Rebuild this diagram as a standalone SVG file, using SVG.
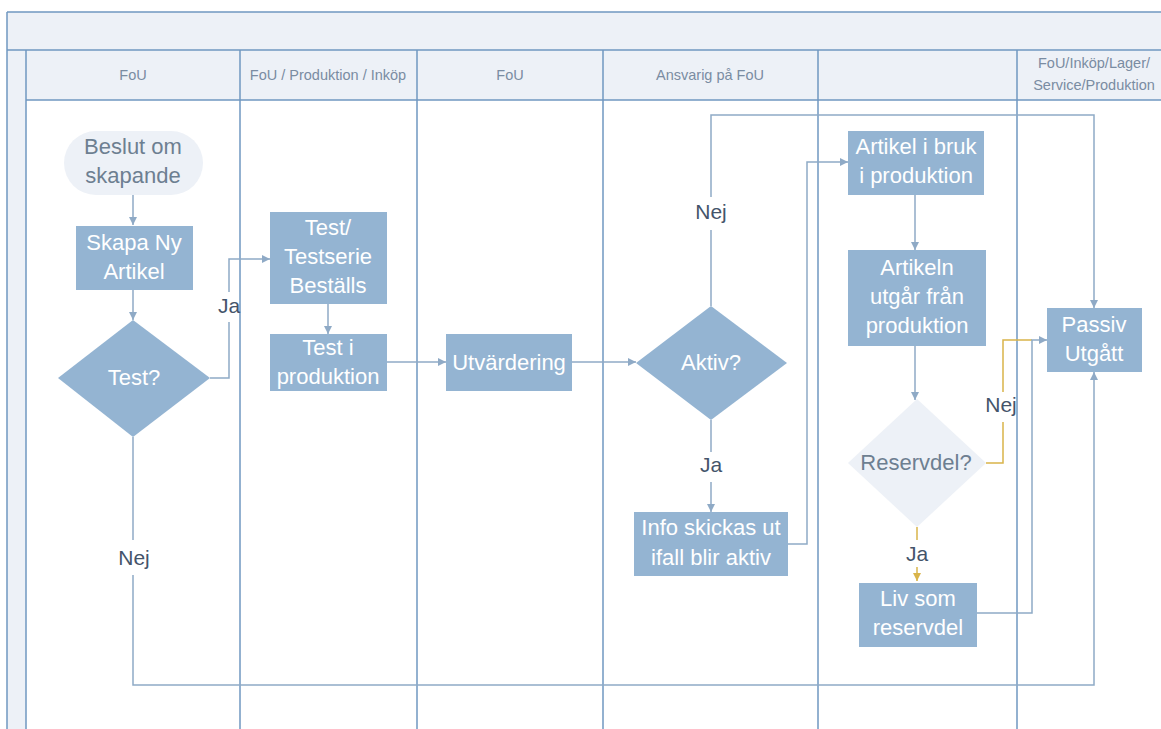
<svg xmlns="http://www.w3.org/2000/svg" width="1161" height="729" viewBox="0 0 1161 729">
  <style>
    .lane { stroke: #6f97c0; stroke-width: 1.5; fill: none; }
    .band { fill: #edf1f7; }
    .hdr { font-family: "Liberation Sans", Arial, sans-serif; font-size: 14.5px; fill: #7a8ca2; text-anchor: middle; }
    .box { fill: #94b4d2; }
    .soft { fill: #edf1f7; }
    .t { font-family: "Liberation Sans", Arial, sans-serif; font-size: 22px; fill: #ffffff; text-anchor: middle; }
    .ts { font-family: "Liberation Sans", Arial, sans-serif; font-size: 22px; fill: #6d7f91; text-anchor: middle; }
    .lbl { font-family: "Liberation Sans", Arial, sans-serif; font-size: 21px; fill: #44546a; text-anchor: middle; }
    .c { stroke: #8faac6; stroke-width: 1.5; fill: none; }
    .g { stroke: #d9b44a; stroke-width: 1.5; fill: none; }
  </style>
  <defs>
    <marker id="arr" viewBox="0 0 10 10" refX="10" refY="5" markerWidth="9" markerHeight="8" markerUnits="userSpaceOnUse" orient="auto">
      <path d="M0,0 L10,5 L0,10 z" fill="#8faac6"/>
    </marker>
    <marker id="arrG" viewBox="0 0 10 10" refX="10" refY="5" markerWidth="9" markerHeight="8" markerUnits="userSpaceOnUse" orient="auto">
      <path d="M0,0 L10,5 L0,10 z" fill="#d9b44a"/>
    </marker>
  </defs>

  <!-- swimlane frame -->
  <g id="frame">
    <rect x="0" y="0" width="1161" height="729" fill="#ffffff"/>
    <rect class="band" x="7" y="12" width="1160" height="38"/>
    <rect class="band" x="7" y="50" width="19" height="690"/>
    <rect class="band" x="26" y="50" width="1140" height="50"/>
    <line class="lane" x1="7" y1="12" x2="1166" y2="12"/>
    <line class="lane" x1="7" y1="12" x2="7" y2="740"/>
    <line class="lane" x1="7" y1="50" x2="1166" y2="50"/>
    <line class="lane" x1="26" y1="50" x2="26" y2="740"/>
    <line class="lane" x1="26" y1="100" x2="1166" y2="100"/>
    <line class="lane" x1="240" y1="50" x2="240" y2="740"/>
    <line class="lane" x1="417" y1="50" x2="417" y2="740"/>
    <line class="lane" x1="603" y1="50" x2="603" y2="740"/>
    <line class="lane" x1="818" y1="50" x2="818" y2="740"/>
    <line class="lane" x1="1017" y1="50" x2="1017" y2="740"/>
    <text class="hdr" x="133" y="80">FoU</text>
    <text class="hdr" x="328" y="80">FoU / Produktion / Inköp</text>
    <text class="hdr" x="510" y="80">FoU</text>
    <text class="hdr" x="710" y="80">Ansvarig på FoU</text>
    <text class="hdr" x="1094" y="68">FoU/Inköp/Lager/</text>
    <text class="hdr" x="1094" y="90">Service/Produktion</text>
  </g>

  <!-- connectors -->
  <g id="connectors">
    <path class="c" d="M133,195 V225" marker-end="url(#arr)"/>
    <path class="c" d="M133,290 V320" marker-end="url(#arr)"/>
    <path class="c" d="M210,378 H229 V322"/>
    <path class="c" d="M229,292 V259 H270" marker-end="url(#arr)"/>
    <path class="c" d="M328,304 V334" marker-end="url(#arr)"/>
    <path class="c" d="M386,362 H446" marker-end="url(#arr)"/>
    <path class="c" d="M571,362 H636" marker-end="url(#arr)"/>
    <path class="c" d="M711,306 V230"/>
    <path class="c" d="M711,197 V115 H1094 V308" marker-end="url(#arr)"/>
    <path class="c" d="M711,420 V452"/>
    <path class="c" d="M711,482 V512" marker-end="url(#arr)"/>
    <path class="c" d="M787,544 H807 V162 H848" marker-end="url(#arr)"/>
    <path class="c" d="M915,195 V250" marker-end="url(#arr)"/>
    <path class="c" d="M915,346 V400" marker-end="url(#arr)"/>
    <path class="g" d="M986,463 H1003 V422"/>
    <path class="g" d="M1003,392 V340 H1032"/>
    <path class="c" d="M977,613 H1032 V340 H1047" marker-end="url(#arr)"/>
    <path class="g" d="M917,527 V540"/>
    <path class="g" d="M917,567 V581" marker-end="url(#arrG)"/>
    <path class="c" d="M133,437 V540"/>
    <path class="c" d="M133,575 V685 H1094 V372" marker-end="url(#arr)"/>
    <text class="lbl" x="229" y="313">Ja</text>
    <text class="lbl" x="711" y="219">Nej</text>
    <text class="lbl" x="711" y="472">Ja</text>
    <text class="lbl" x="134" y="565">Nej</text>
    <text class="lbl" x="1001" y="412">Nej</text>
    <text class="lbl" x="917" y="561">Ja</text>
  </g>

  <g id="beslut">
    <rect class="soft" x="64" y="131" width="139" height="64" rx="32" ry="32"/>
    <text class="ts" x="133" y="154">Beslut om</text>
    <text class="ts" x="133" y="183">skapande</text>
  </g>
  <g id="skapa">
    <rect class="box" x="76" y="226" width="117" height="64"/>
    <text class="t" x="134" y="250">Skapa Ny</text>
    <text class="t" x="134" y="279">Artikel</text>
  </g>
  <g id="test">
    <polygon class="box" points="133,320 210,378 133,437 58,378"/>
    <text class="t" x="134" y="385">Test?</text>
  </g>
  <g id="testserie">
    <rect class="box" x="270" y="212" width="117" height="92"/>
    <text class="t" x="328" y="235">Test/</text>
    <text class="t" x="328" y="264">Testserie</text>
    <text class="t" x="328" y="293">Beställs</text>
  </g>
  <g id="testprod">
    <rect class="box" x="270" y="334" width="117" height="57"/>
    <text class="t" x="328" y="355">Test i</text>
    <text class="t" x="328" y="384">produktion</text>
  </g>
  <g id="utvardering">
    <rect class="box" x="446" y="334" width="126" height="57"/>
    <text class="t" x="509" y="370">Utvärdering</text>
  </g>
  <g id="aktiv">
    <polygon class="box" points="711,306 787,363 711,420 636,363"/>
    <text class="t" x="711" y="370">Aktiv?</text>
  </g>
  <g id="info">
    <rect class="box" x="634" y="512" width="154" height="64"/>
    <text class="t" x="711" y="535">Info skickas ut</text>
    <text class="t" x="711" y="565">ifall blir aktiv</text>
  </g>
  <g id="ibruk">
    <rect class="box" x="848" y="131" width="136" height="64"/>
    <text class="t" x="916" y="154">Artikel i bruk</text>
    <text class="t" x="916" y="183">i produktion</text>
  </g>
  <g id="utgar">
    <rect class="box" x="848" y="250" width="138" height="96"/>
    <text class="t" x="917" y="275">Artikeln</text>
    <text class="t" x="917" y="304">utgår från</text>
    <text class="t" x="917" y="333">produktion</text>
  </g>
  <g id="reservdel">
    <polygon class="soft" points="917,399 986,463 917,527 848,463"/>
    <text class="ts" x="916" y="470">Reservdel?</text>
  </g>
  <g id="liv">
    <rect class="box" x="859" y="583" width="118" height="64"/>
    <text class="t" x="918" y="606">Liv som</text>
    <text class="t" x="918" y="635">reservdel</text>
  </g>
  <g id="passiv">
    <rect class="box" x="1047" y="308" width="95" height="64"/>
    <text class="t" x="1094" y="332">Passiv</text>
    <text class="t" x="1094" y="361">Utgått</text>
  </g>
</svg>
